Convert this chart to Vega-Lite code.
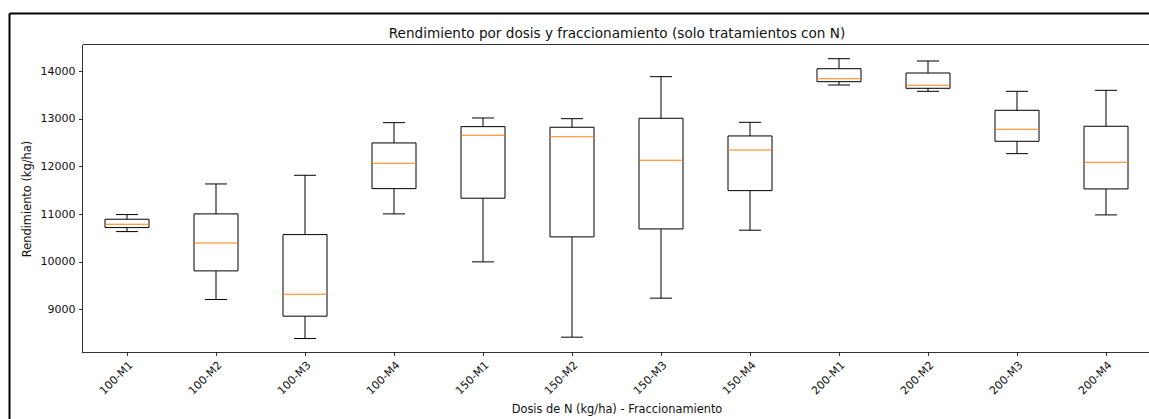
{
  "$schema": "https://vega.github.io/schema/vega-lite/v6.json",
  "autosize": {"type": "none"},
  "width": 1140,
  "height": 406,
  "padding": {"left": 9, "top": 13, "right": 0, "bottom": 0},
  "background": "white",
  "data": {
    "values": [
      {"trat": "100-M1", "lower": 10632, "q1": 10716, "median": 10787, "q3": 10891, "upper": 10989},
      {"trat": "100-M2", "lower": 9207, "q1": 9808, "median": 10395, "q3": 11003, "upper": 11631},
      {"trat": "100-M3", "lower": 8389, "q1": 8858, "median": 9320, "q3": 10569, "upper": 11813},
      {"trat": "100-M4", "lower": 11003, "q1": 11533, "median": 12065, "q3": 12491, "upper": 12917},
      {"trat": "150-M1", "lower": 9997, "q1": 11332, "median": 12652, "q3": 12833, "upper": 13015},
      {"trat": "150-M2", "lower": 8418, "q1": 10521, "median": 12623, "q3": 12820, "upper": 13000},
      {"trat": "150-M3", "lower": 9236, "q1": 10688, "median": 12128, "q3": 13009, "upper": 13881},
      {"trat": "150-M4", "lower": 10661, "q1": 11491, "median": 12344, "q3": 12638, "upper": 12924},
      {"trat": "200-M1", "lower": 13707, "q1": 13776, "median": 13839, "q3": 14048, "upper": 14258},
      {"trat": "200-M2", "lower": 13574, "q1": 13637, "median": 13700, "q3": 13958, "upper": 14210},
      {"trat": "200-M3", "lower": 12267, "q1": 12526, "median": 12778, "q3": 13176, "upper": 13574},
      {"trat": "200-M4", "lower": 10982, "q1": 11527, "median": 12086, "q3": 12841, "upper": 13595}
    ]
  },
  "resolve": {"scale": {"x": "independent", "y": "independent"}, "axis": {"x": "independent", "y": "independent"}},
  "layer": [
    {
      "mark": {"type": "point", "opacity": 0},
      "encoding": {
        "x": {
          "field": "trat", "type": "nominal", "sort": null,
          "scale": {"type": "band", "range": [0, 1140], "paddingInner": 0, "paddingOuter": 0},
          "axis": {"orient": "top", "offset": 0, "labels": false, "ticks": false, "title": null, "domainWidth": 2, "domainColor": "black"}
        },
        "y": {
          "field": "lower", "type": "quantitative",
          "scale": {"domain": [8092, 14560], "range": [406, 0], "nice": false, "zero": false},
          "axis": {"orient": "left", "offset": 0, "labels": false, "ticks": false, "title": null, "domainWidth": 2, "domainColor": "black"}
        }
      }
    },
    {
      "resolve": {"axis": {"x": "independent"}},
      "layer": [
        {
          "mark": {"type": "rule", "color": "black", "strokeWidth": 1},
          "encoding": {
            "x": {
              "field": "trat", "type": "nominal", "sort": null,
              "scale": {"type": "band", "range": [73.5, 1141.5], "paddingInner": 0, "paddingOuter": 0},
              "axis": {"orient": "bottom", "offset": -67, "titlePadding": 7, "title": "Dosis de N (kg/ha) - Fraccionamiento", "labelAngle": -45}
            },
            "y": {
              "field": "lower", "type": "quantitative",
              "scale": {"domain": [8092, 14560], "range": [339.7, 31.3], "nice": false, "zero": false},
              "axis": {"orient": "left", "offset": -73, "titlePadding": 8, "title": "Rendimiento (kg/ha)", "values": [9000, 10000, 11000, 12000, 13000, 14000], "format": "d"}
            },
            "y2": {"field": "upper"}
          }
        },
        {
          "mark": {"type": "bar", "width": 44, "fill": "white", "stroke": "black", "strokeWidth": 1},
          "encoding": {
            "x": {"field": "trat", "type": "nominal", "sort": null, "axis": null},
            "y": {"field": "q1", "type": "quantitative", "title": "Rendimiento (kg/ha)"},
            "y2": {"field": "q3"}
          }
        },
        {
          "mark": {"type": "tick", "size": 22, "thickness": 1, "color": "black", "opacity": 1},
          "encoding": {
            "x": {"field": "trat", "type": "nominal", "sort": null, "axis": null},
            "y": {"field": "lower", "type": "quantitative", "title": "Rendimiento (kg/ha)"}
          }
        },
        {
          "mark": {"type": "tick", "size": 22, "thickness": 1, "color": "black", "opacity": 1},
          "encoding": {
            "x": {"field": "trat", "type": "nominal", "sort": null, "axis": null},
            "y": {"field": "upper", "type": "quantitative", "title": "Rendimiento (kg/ha)"}
          }
        },
        {
          "mark": {"type": "tick", "size": 44, "thickness": 1, "color": "#ff7f0e", "opacity": 1},
          "encoding": {
            "x": {
              "field": "trat", "type": "nominal", "sort": null,
              "axis": {"orient": "top", "offset": -31, "titlePadding": 4, "titleFontSize": 13.6, "title": "Rendimiento por dosis y fraccionamiento (solo tratamientos con N)", "labels": false, "ticks": false}
            },
            "y": {"field": "median", "type": "quantitative", "title": "Rendimiento (kg/ha)"}
          }
        }
      ]
    }
  ],
  "config": {
    "view": {"stroke": null, "fill": "white"},
    "font": "DejaVu Sans",
    "axis": {
      "domainColor": "black", "domainWidth": 0.8,
      "tickColor": "black", "tickWidth": 0.8, "tickSize": 3.5,
      "labelFont": "DejaVu Sans", "labelFontSize": 11, "labelColor": "#111", "labelPadding": 3.5,
      "titleFont": "DejaVu Sans", "titleFontSize": 11.4, "titleFontWeight": "normal", "titleColor": "#111",
      "grid": false
    }
  }
}
